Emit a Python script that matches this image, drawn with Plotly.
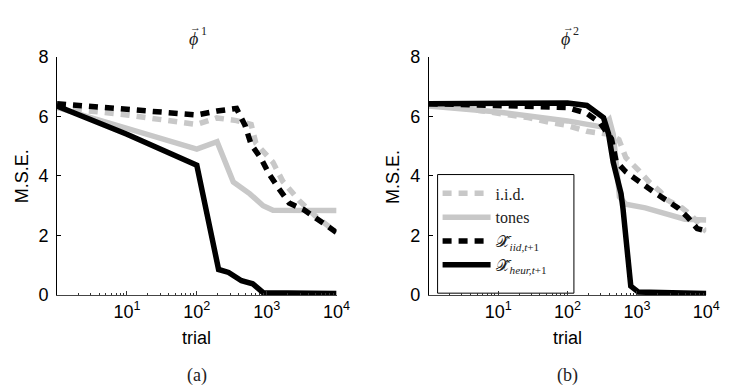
import plotly.graph_objects as go

# ---------------- data ----------------
# panel (a)
a_iid_x = [1, 10, 100, 193, 370, 600, 700, 1230, 1700, 2900, 4900, 10000]
a_iid_y = [6.3, 6.05, 5.73, 5.95, 5.86, 5.73, 5.1, 4.46, 3.82, 3.18, 2.67, 2.1]

a_tones_x = [1, 100, 195, 333, 575, 890, 1230, 2100, 10000]
a_tones_y = [6.3, 4.9, 5.15, 3.8, 3.4, 3.0, 2.85, 2.85, 2.84]

a_xiid_x = [1, 10, 100, 195, 370, 490, 600, 830, 1100, 1500, 2100, 3400, 4900, 10000]
a_xiid_y = [6.43, 6.22, 6.05, 6.18, 6.27, 5.7, 5.06, 4.59, 4.04, 3.57, 3.09, 2.87, 2.61, 2.1]

a_heur_x = [1, 10, 100, 205, 285, 436, 630, 890, 10000]
a_heur_y = [6.35, 5.4, 4.36, 0.86, 0.76, 0.48, 0.38, 0.08, 0.05]

# panel (b)
b_iid_x = [1, 2.7, 5.3, 14, 27, 55, 98, 190, 400, 550, 690, 1050, 1470, 2170, 2800, 4450, 6100, 10000]
b_iid_y = [6.43, 6.34, 6.2, 6.05, 5.96, 5.8, 5.7, 5.5, 5.4, 5.22, 4.62, 4.2, 3.82, 3.47, 3.18, 2.93, 2.67, 2.13]

b_tones_x = [1, 10, 100, 310, 400, 455, 510, 560, 690, 870, 1320, 2800, 4900, 10000]
b_tones_y = [6.35, 6.15, 5.85, 5.65, 5.9, 5.4, 4.3, 3.3, 3.05, 3.0, 2.93, 2.71, 2.55, 2.52]

b_xiid_x = [1, 10, 100, 190, 290, 430, 500, 690, 1050, 1730, 3900, 5400, 7400, 10000]
b_xiid_y = [6.43, 6.38, 6.3, 6.1, 5.8, 5.25, 4.5, 4.14, 3.82, 3.47, 2.93, 2.61, 2.23, 2.15]

b_heur_x = [1, 10, 100, 190, 330, 390, 455, 590, 630, 815, 1050, 10000]
b_heur_y = [6.43, 6.45, 6.45, 6.37, 5.96, 5.41, 4.46, 3.41, 2.9, 0.3, 0.1, 0.05]

series_names = ["i.i.d.", "tones",
                "𝒳̂<sub><i>iid,t</i>+1</sub>",
                "𝒳̂<sub><i>heur,t</i>+1</sub>"]

x_tickvals = [10, 100, 1000, 10000]
x_ticktext = ["10<sup>1</sup>", "10<sup>2</sup>", "10<sup>3</sup>", "10<sup>4</sup>"]
y_tickvals = [0, 2, 4, 6, 8]
panel_sup = ["1", "2"]
panel_labels = ["(a)", "(b)"]

# ---------------- styling ----------------
GRAY = "#c8c8c8"
BLACK = "#000000"
LW = 5.5
DASH = "9px,7px"
styles = [
    dict(color=GRAY, width=LW, dash=DASH),
    dict(color=GRAY, width=LW, dash="solid"),
    dict(color=BLACK, width=LW, dash=DASH),
    dict(color=BLACK, width=LW, dash="solid"),
]

W, H = 729, 391
fig = go.Figure()

# legend frame (drawn behind the traces; no data passes under it)
fig.add_shape(type="rect", xref="paper", yref="paper",
              x0=438 / W, x1=577 / W, y0=1 - 290 / H, y1=1 - 165 / H,
              line=dict(color="black", width=1), fillcolor="white", layer="below")

panels = [
    ([a_iid_x, a_tones_x, a_xiid_x, a_heur_x], [a_iid_y, a_tones_y, a_xiid_y, a_heur_y], "x", "y", False),
    ([b_iid_x, b_tones_x, b_xiid_x, b_heur_x], [b_iid_y, b_tones_y, b_xiid_y, b_heur_y], "x2", "y2", True),
]
for xs, ys, xa, ya, show in panels:
    for i in range(4):
        fig.add_trace(go.Scatter(
            x=xs[i], y=ys[i], mode="lines", name=series_names[i],
            line=styles[i], xaxis=xa, yaxis=ya, showlegend=show,
            legendgroup="g%d" % i,
        ))

minor_vals = [m * 10 ** k for k in range(0, 4) for m in range(2, 10)]

def xaxis_cfg(x0, x1):
    return dict(
        type="log", range=[0, 4], domain=[x0 / W, x1 / W],
        tickvals=x_tickvals, ticktext=x_ticktext,
        ticks="inside", ticklen=4, tickcolor="#333",
        showline=True, linecolor="#444", linewidth=1,
        showgrid=False, zeroline=False,
        tickfont=dict(family="Liberation Sans, Arial", size=18, color="black"),
        minor=dict(tickvals=minor_vals, ticks="inside", ticklen=2, tickcolor="#333", showgrid=False),
    )

def yaxis_cfg(anchor):
    return dict(
        range=[0, 8], domain=[1 - 292 / H, 1 - 41 / H],
        tickvals=y_tickvals, ticks="inside", ticklen=4, tickcolor="black",
        showline=True, linecolor="black", linewidth=1,
        showgrid=False, zeroline=False, anchor=anchor, ticklabelstandoff=4,
        tickfont=dict(family="Liberation Sans, Arial", size=18, color="black"),
    )

fig.update_layout(
    width=W, height=H, margin=dict(l=0, r=0, t=0, b=0),
    paper_bgcolor="white", plot_bgcolor="white",
    xaxis=xaxis_cfg(50, 335) | dict(anchor="y"),
    yaxis=yaxis_cfg("x"),
    xaxis2=xaxis_cfg(429, 712) | dict(anchor="y2"),
    yaxis2=yaxis_cfg("x2"),
    legend=dict(
        x=438 / W, y=1 - 167 / H, xanchor="left", yanchor="top",
        bgcolor="rgba(0,0,0,0)", borderwidth=0,
        font=dict(family="Liberation Serif, DejaVu Serif", size=16, color="#222"),
        itemwidth=48, tracegroupgap=0, traceorder="grouped",
    ),
)

serif = dict(family="Liberation Serif, DejaVu Serif", color="#222")
sans = dict(family="Liberation Sans, Arial", size=18, color="black")
centers = [192.5, 570.5]
phi_x = [189, 568]
sup_x = [200, 579]
arrow_x = [191, 571]
mse_x = [15, 393]
for k in range(2):
    fig.add_annotation(x=phi_x[k] / W, y=1 - 22 / H, xref="paper", yref="paper",
                       text="<i>ϕ</i>", showarrow=False, font=serif | dict(size=18),
                       xanchor="center", yanchor="middle")
    fig.add_annotation(x=sup_x[k] / W, y=1 - 14 / H, xref="paper", yref="paper",
                       text=panel_sup[k], showarrow=False, font=serif | dict(size=12),
                       xanchor="center", yanchor="middle")
    fig.add_annotation(x=arrow_x[k] / W, y=1 - 9 / H, xref="paper", yref="paper",
                       text="→", showarrow=False, font=serif | dict(size=11),
                       xanchor="center", yanchor="middle")
    fig.add_annotation(x=centers[k] / W, y=1 - 377 / H, xref="paper", yref="paper",
                       text=panel_labels[k], showarrow=False, font=serif | dict(size=18),
                       xanchor="center", yanchor="middle")
    fig.add_annotation(x=centers[k] / W, y=1 - 337 / H, xref="paper", yref="paper",
                       text="trial", showarrow=False, font=sans,
                       xanchor="center", yanchor="middle")
    fig.add_annotation(x=mse_x[k] / W, y=1 - 167 / H, xref="paper", yref="paper",
                       text="M.S.E.", showarrow=False, font=sans, textangle=-90,
                       xanchor="center", yanchor="middle")

fig.write_html("out.html")
